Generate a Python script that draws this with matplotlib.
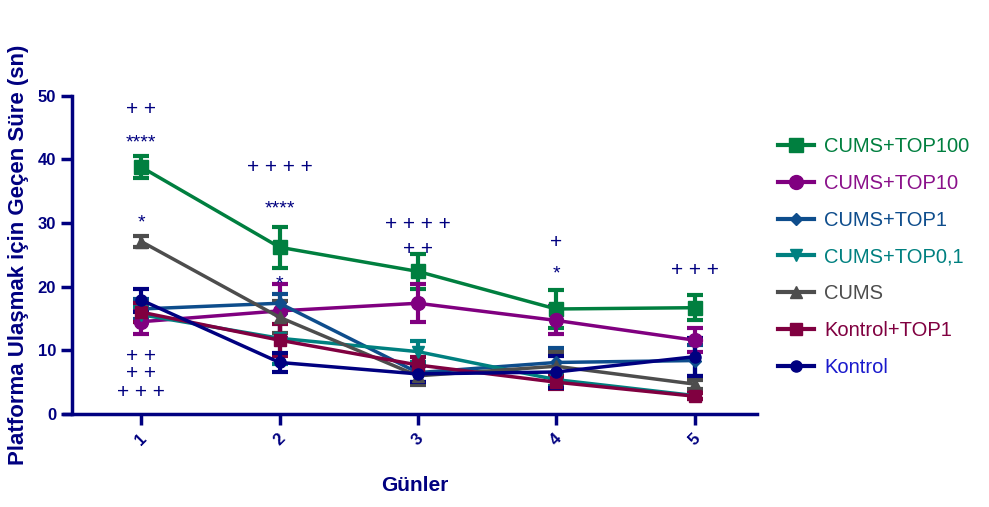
import matplotlib.pyplot as plt
import numpy as np

plt.rcParams['font.family'] = ['Liberation Sans', 'DejaVu Sans']

days = [1, 2, 3, 4, 5]
groups = ['CUMS+TOP100', 'CUMS+TOP10', 'CUMS+TOP1', 'CUMS+TOP0,1', 'CUMS', 'Kontrol+TOP1', 'Kontrol']

top100 = [38.8, 26.2, 22.4, 16.5, 16.7]
top100_err = [1.8, 3.2, 2.8, 3.0, 2.0]
top10 = [14.5, 16.2, 17.4, 14.7, 11.6]
top10_err = [2.0, 4.2, 3.0, 2.2, 1.9]
top1 = [16.5, 17.4, 6.5, 8.1, 8.4]
top1_err = [1.5, 1.5, 1.5, 2.3, 2.5]
top01 = [15.6, 11.9, 9.8, 5.4, 2.9]
top01_err = [1.2, 4.0, 1.7, 1.0, 0.5]
cums = [27.1, 15.2, 6.0, 7.5, 4.7]
cums_err = [0.8, 2.5, 1.5, 2.3, 0.7]
ktop1 = [16.0, 11.6, 7.7, 5.0, 2.8]
ktop1_err = [1.5, 2.5, 1.3, 1.0, 0.5]
kontrol = [17.9, 8.1, 6.3, 6.6, 9.0]
kontrol_err = [1.8, 1.5, 1.2, 2.5, 3.0]

means = [top100, top10, top1, top01, cums, ktop1, kontrol]
errs = [top100_err, top10_err, top1_err, top01_err, cums_err, ktop1_err, kontrol_err]
colors = ['#007f3f', '#800080', '#0e4d8c', '#008080', '#4d4d4d', '#800040', '#000080']
text_colors = ['#007f3f', '#8a108a', '#0e4d8c', '#008080', '#4d4d4d', '#800040', '#1a1acc']
markers = ['s', 'o', 'D', 'v', '^', 's', 'o']
msizes = [10, 10, 6, 8, 8, 8, 8]

# significance marks: (day, value, text)
ann_day = [1, 1, 1, 1, 1, 1, 2, 2, 2, 3, 3, 4, 4, 5]
ann_val = [47.8, 42.5, 30.0, 9.1, 6.4, 3.4, 38.8, 32.2, 20.4, 29.7, 25.9, 27.0, 22.0, 22.5]
ann_txt = ['+ +', '****', '*', '+ +', '+ +', '+ + +', '+ + + +', '****', '*',
           '+ + + +', '+ +', '+', '*', '+ + +']

navy = '#000080'

fig = plt.figure(figsize=(9.89, 5.07), dpi=100)
ax = fig.add_axes([0.0728, 0.1834, 0.6924, 0.6278])

handles = []
for m, e, c, mk, ms, lab in zip(means, errs, colors, markers, msizes, groups):
    ax.errorbar(days, m, yerr=e, color=c, lw=2.5, elinewidth=3, capsize=6,
                capthick=3, marker=mk, markersize=ms, clip_on=False)
    h, = ax.plot([], [], color=c, lw=3, marker=mk, markersize=ms, label=lab)
    handles.append(h)

for d, v, t in zip(ann_day, ann_val, ann_txt):
    fs = 14 if '*' in t else 15
    ax.text(d, v, t, color=navy, fontsize=fs, ha='center', va='center')

ax.set_xlim(0.5, 5.45)
ax.set_ylim(0, 50)
ax.set_xticks(days)
ax.set_yticks([0, 10, 20, 30, 40, 50])
ax.set_xticklabels([str(d) for d in days], rotation=45, fontweight='bold')
for s in ['top', 'right']:
    ax.spines[s].set_visible(False)
for s in ['left', 'bottom']:
    ax.spines[s].set_color(navy)
    ax.spines[s].set_linewidth(2.5)
ax.spines['bottom'].set_bounds(0.44, 5.45)
ax.tick_params(colors=navy, width=2.5, length=8, labelsize=12)
for lb in ax.get_yticklabels():
    lb.set_fontweight('bold')
ax.tick_params(axis='x', pad=4)

ax.set_xlabel('Günler', color=navy, fontsize=15, fontweight='bold', labelpad=20)
ax.set_ylabel('Platforma Ulaşmak için Geçen Süre (sn)', color=navy, fontsize=16,
              fontweight='bold', labelpad=6)

leg = fig.legend(handles=handles, loc='upper left', bbox_to_anchor=(0.768, 0.765),
                 frameon=False, fontsize=14.5, handlelength=1.8, handletextpad=0.5,
                 labelspacing=0.88, labelcolor=text_colors)

fig.savefig('out.png', dpi=100)
